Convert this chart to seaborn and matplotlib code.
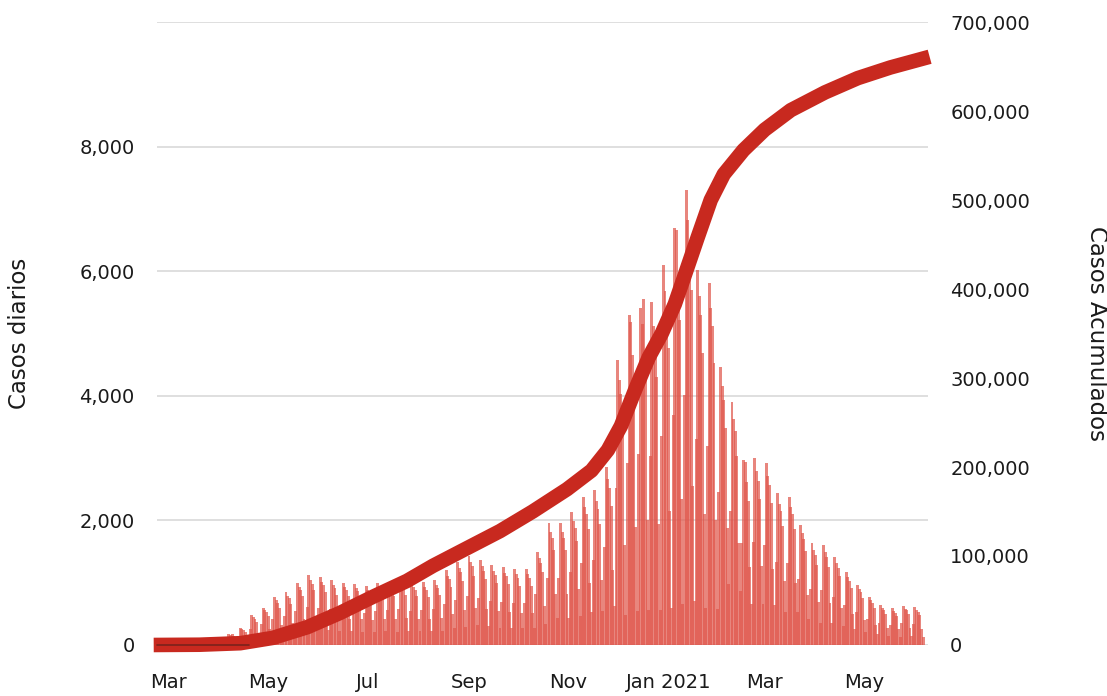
import matplotlib
matplotlib.use("Agg")
import matplotlib.pyplot as plt
import seaborn as sns
import pandas as pd

# daily cases, one row per week (Mon..Sun), first Monday 2020-02-24
start_date = "2020-02-24"
daily_cases = [
    0, 0, 0, 0, 0, 0, 0,
    0, 1, 2, 0, 1, 0, 0,
    2, 4, 5, 3, 6, 1, 0,
    8, 18, 20, 15, 24, 9, 4,
    30, 55, 62, 50, 48, 22, 10,
    60, 115, 110, 120, 95, 45, 25,
    95, 175, 165, 180, 140, 75, 40,
    150, 270, 250, 240, 210, 110, 60,
    260, 480, 450, 420, 375, 200, 105,
    330, 600, 560, 530, 470, 250, 130,
    420, 770, 715, 680, 600, 325, 170,
    470, 850, 790, 750, 665, 355, 185,
    550, 1000, 930, 880, 780, 420, 220,
    615, 1120, 1040, 985, 875, 470, 245,
    600, 1090, 1015, 960, 850, 460, 240,
    570, 1040, 965, 915, 810, 435, 230,
    550, 1000, 930, 880, 780, 420, 220,
    540, 980, 910, 860, 765, 410, 215,
    520, 950, 885, 835, 740, 400, 210,
    550, 1000, 930, 880, 780, 420, 220,
    555, 995, 935, 875, 785, 425, 215,
    570, 1040, 965, 915, 810, 435, 230,
    550, 1000, 930, 880, 780, 420, 220,
    560, 1010, 925, 890, 775, 415, 225,
    575, 1040, 970, 915, 810, 440, 230,
    660, 1200, 1115, 1055, 935, 505, 265,
    730, 1330, 1235, 1170, 1035, 560, 295,
    785, 1430, 1330, 1260, 1115, 600, 315,
    750, 1360, 1265, 1195, 1060, 570, 300,
    705, 1280, 1190, 1125, 1000, 540, 280,
    690, 1250, 1160, 1100, 975, 525, 275,
    670, 1220, 1135, 1075, 950, 510, 270,
    670, 1220, 1135, 1075, 950, 510, 270,
    825, 1500, 1395, 1320, 1170, 630, 330,
    1080, 1960, 1820, 1725, 1530, 825, 430,
    1080, 1960, 1820, 1725, 1530, 825, 430,
    1175, 2140, 1990, 1885, 1670, 900, 470,
    1310, 2380, 2215, 2095, 1855, 1000, 525,
    1370, 2490, 2315, 2190, 1940, 1045, 550,
    1575, 2860, 2660, 2515, 2230, 1200, 630,
    2520, 4580, 4260, 4030, 3570, 1600, 480,
    2915, 5300, 5190, 4660, 4135, 1900, 550,
    3060, 5410, 5150, 5560, 4335, 2000, 560,
    3030, 5510, 5125, 4850, 4300, 1950, 560,
    3355, 6100, 5675, 5370, 4760, 2150, 600,
    3685, 6700, 6660, 5900, 5225, 2350, 650,
    4020, 7310, 6830, 6430, 5700, 2550, 700,
    3310, 6020, 5600, 5300, 4695, 2100, 600,
    3195, 5810, 5405, 5115, 4530, 2000, 580,
    2455, 4460, 4150, 3925, 3480, 1875, 980,
    2145, 3900, 3625, 3430, 3040, 1640, 860,
    1635, 2970, 2940, 2615, 2315, 1250, 655,
    1650, 3000, 2790, 2640, 2340, 1260, 660,
    1605, 2920, 2715, 2570, 2280, 1225, 640,
    1340, 2440, 2270, 2145, 1905, 1025, 535,
    1310, 2380, 2215, 2095, 1855, 1000, 525,
    1060, 1930, 1795, 1700, 1505, 810, 425,
    900, 1640, 1525, 1445, 1280, 690, 360,
    885, 1610, 1500, 1415, 1255, 675, 355,
    775, 1410, 1310, 1240, 1100, 590, 310,
    645, 1170, 1090, 1030, 915, 490, 255,
    530, 960, 895, 845, 750, 405, 210,
    425, 770, 715, 680, 600, 325, 170,
    350, 640, 595, 565, 500, 270, 140,
    325, 590, 550, 520, 460, 250, 130,
    345, 630, 585, 555, 490, 265, 140,
    335, 610, 565, 535, 475, 255, 135,
]

# cumulative cases
cum_dates = [
    "2020-02-21", "2020-03-20", "2020-04-14", "2020-05-04", "2020-05-25",
    "2020-06-14", "2020-07-04", "2020-07-25", "2020-08-10", "2020-08-31",
    "2020-09-20", "2020-10-10", "2020-10-31", "2020-11-15", "2020-11-25",
    "2020-12-03", "2020-12-12", "2020-12-20", "2020-12-28", "2021-01-05",
    "2021-01-11", "2021-01-19", "2021-01-27", "2021-02-04", "2021-02-16",
    "2021-03-01", "2021-03-17", "2021-04-07", "2021-04-27", "2021-05-17",
    "2021-06-10",
]
cum_cases = [
    0, 300, 2000, 8000, 20000,
    36000, 54000, 72000, 89000, 109000,
    128000, 150000, 175000, 196000, 219000,
    246000, 288000, 323000, 350000, 383000,
    415000, 458000, 500000, 529000, 556000,
    579000, 601000, 621000, 637000, 649000,
    661000,
]

month_ticks = ["2020-03-01", "2020-05-01", "2020-07-01", "2020-09-01",
               "2020-11-01", "2021-01-01", "2021-03-01", "2021-05-01"]
month_labels = ["Mar", "May", "Jul", "Sep", "Nov", "Jan 2021", "Mar", "May"]

sns.set_theme(style="white")
plt.rcParams["font.family"] = ["DejaVu Sans"]

days = pd.date_range(start_date, periods=len(daily_cases), freq="D")
x_lo, x_hi = pd.Timestamp("2020-02-23"), pd.Timestamp("2021-06-09")

fig = plt.figure(figsize=(11.07, 6.96), dpi=100)
ax = fig.add_axes([0.1418, 0.0733, 0.6965, 0.895])

ax.bar(days, daily_cases, width=1.8, color="#e0574d", alpha=0.72,
       linewidth=0, zorder=2)
ax.set_axisbelow(True)
ax.set_ylim(0, 10000)
ax.set_yticks(range(0, 10001, 2000))
ax.set_yticklabels(["0", "2,000", "4,000", "6,000", "8,000", ""])
ax.yaxis.grid(True, color="#d9d9d9", linewidth=1.2)
ax.xaxis.grid(False)
ax.set_xlim(x_lo, x_hi)
ax.set_xticks(pd.to_datetime(month_ticks))
ax.set_xticklabels(month_labels)
ax.tick_params(axis="x", length=0, pad=20, labelsize=14, colors="#1a1a1a")
ax.tick_params(axis="y", length=0, pad=16, labelsize=14, colors="#1a1a1a")
ax.set_ylabel("Casos diarios", fontsize=16.5, color="#1a1a1a")
ax.yaxis.set_label_coords(-0.163, 0.5)

ax2 = ax.twinx()
sns.lineplot(x=pd.to_datetime(cum_dates), y=cum_cases, ax=ax2,
             color="#c8291f", linewidth=10.5, solid_capstyle="butt",
             solid_joinstyle="round", clip_on=False)
ax2.axhline(0, color="#7a221c", linewidth=1.2, zorder=5, clip_on=False,
            xmax=0.12)
ax2.set_ylim(0, 700000)
ax2.set_yticks(range(0, 700001, 100000))
ax2.set_yticklabels([f"{v:,}" for v in range(0, 700001, 100000)])
ax2.tick_params(axis="y", length=0, pad=16, labelsize=14, colors="#1a1a1a")
ax2.set_ylabel("Casos Acumulados", fontsize=16.5, color="#1a1a1a",
               rotation=270, va="bottom")
ax2.yaxis.set_label_coords(1.203, 0.5)
ax2.set_xlim(x_lo, x_hi)

for a in (ax, ax2):
    for s in a.spines.values():
        s.set_visible(False)

fig.savefig("out.png", dpi=100)
